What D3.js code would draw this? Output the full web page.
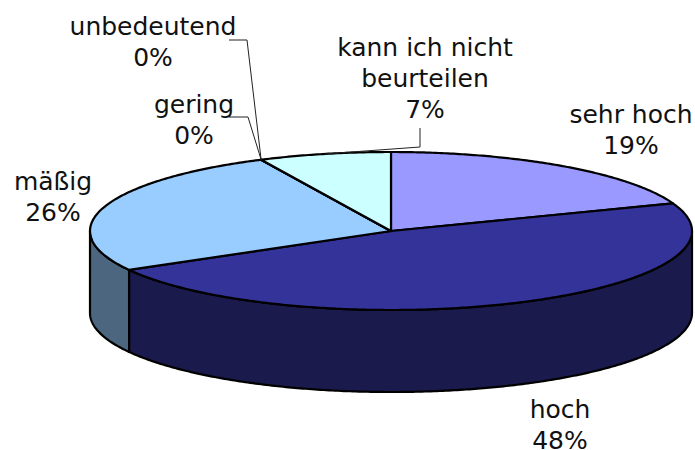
<!DOCTYPE html>
<html>
<head>
<meta charset="utf-8">
<script src="https://cdnjs.cloudflare.com/ajax/libs/d3/7.8.5/d3.min.js"></script>
<style>
html,body{margin:0;padding:0;background:#fff}
svg{display:block}
text{font-family:"DejaVu Sans",sans-serif;font-size:25px;fill:#111;text-anchor:middle}
</style>
</head>
<body>
<svg id="c" width="695" height="450"></svg>
<script>
const categories = ["sehr hoch","hoch","mäßig","gering","unbedeutend","kann ich nicht beurteilen"];
const values = [19.3,47.5,26.1,0,0,7.1];
const topColors = ["#9999FF","#333399","#99CCFF","#6699CC","#CCCCFF","#CCFFFF"];
const sideColors = ["#4C4C7F","#1A1A4C","#4C667F","#334C66","#66667F","#667F7F"];
const labelLines = [["sehr hoch"],["hoch"],["mäßig"],["gering"],["unbedeutend"],["kann ich nicht","beurteilen"]];
const labelAnchors = [[631,114],[560,409],[53,181],[194,104],[153,26],[425,47]];
const lineStep = 31;
const leaders = {3:[[229,117],[248,117]],4:[[229,40],[247,40]],5:[[420,128],[420,147]]};

const cx=391, cy=231, rx=301, ry=79, depth=82;
const x=d3.scaleLinear().domain([-1,1]).range([cx-rx,cx+rx]);
const y=d3.scaleLinear().domain([-1,1]).range([cy+ry,cy-ry]);
const pt=(a,dy=0)=>[x(Math.sin(a)),y(Math.cos(a))+dy];
const line=d3.line();
const samples=(a0,a1,dy=0)=>{
  const n=Math.max(1,Math.ceil(Math.abs(a1-a0)/0.01));
  return d3.range(n+1).map(i=>pt(a0+(a1-a0)*i/n,dy));
};
const pie=d3.pie().sort(null).value(d=>d)(values);
const svg=d3.select("#c");
const R=Math.PI/2, L=3*Math.PI/2;

// Side walls: only the front half of the cylinder is visible
const walls=svg.append("g");
pie.forEach((s,i)=>{
  const a0=Math.max(s.startAngle,R), a1=Math.min(s.endAngle,L);
  if(a1<=a0) return;
  walls.append("path")
    .attr("d",line(samples(a0,a1).concat(samples(a1,a0,depth)))+"Z")
    .attr("fill",sideColors[i]).attr("stroke","#000").attr("stroke-width",2.2).attr("stroke-linejoin","round");
});

// Top faces
svg.append("g").selectAll("path").data(pie).join("path")
  .attr("d",s=>line([[x(0),y(0)]].concat(samples(s.startAngle,s.endAngle)))+"Z")
  .attr("fill",(s,i)=>topColors[i]).attr("stroke","#000").attr("stroke-width",2.2).attr("stroke-linejoin","round");

// Leader lines
const lg=svg.append("g");
pie.forEach((s,i)=>{
  if(!leaders[i]) return;
  const mid=(s.startAngle+s.endAngle)/2;
  lg.append("path").attr("d",line(leaders[i].concat([pt(mid)])))
    .attr("fill","none").attr("stroke","#222").attr("stroke-width",1);
});

// Labels
labelLines.forEach((ls,i)=>{
  const t=svg.append("text").attr("x",labelAnchors[i][0]).attr("y",labelAnchors[i][1]+9);
  ls.concat([Math.round(values[i])+"%"]).forEach((l,k)=>t.append("tspan").attr("x",labelAnchors[i][0]).attr("dy",k?lineStep:0).text(l));
});
</script>
</body>
</html>
